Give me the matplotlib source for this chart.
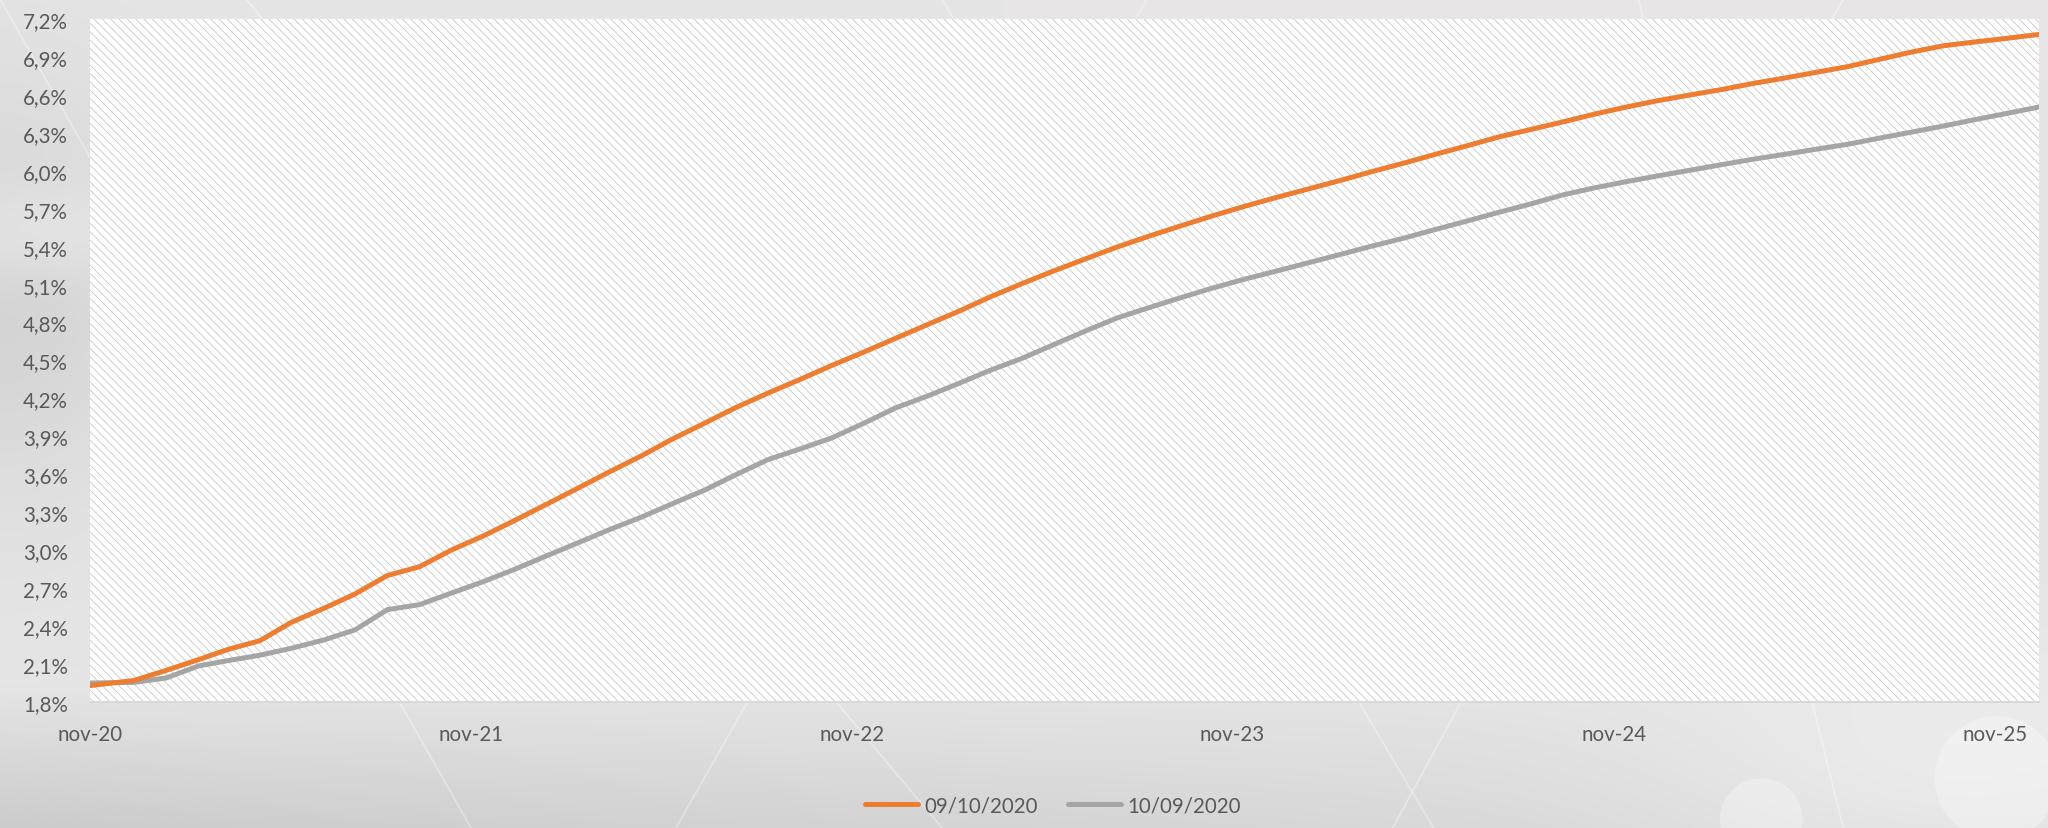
import numpy as np
import pandas as pd
import matplotlib
matplotlib.use("Agg")
import matplotlib.pyplot as plt
from matplotlib.patches import Rectangle, Ellipse
from matplotlib.lines import Line2D

# ---------------- data ----------------
series_names = ["09/10/2020", "10/09/2020"]
first_date = "2020-11-01"
monthly_start = "2020-12-13"
n_monthly = 61

orange_values = [1.93, 1.97, 2.05, 2.135, 2.215, 2.285, 2.43, 2.54, 2.654, 2.80,
                 2.87, 3.00, 3.113, 3.235, 3.365, 3.496, 3.616, 3.744, 3.878, 4.004,
                 4.128, 4.243, 4.352, 4.461, 4.568, 4.675, 4.785, 4.894, 5.00, 5.107,
                 5.206, 5.303, 5.396, 5.483, 5.566, 5.644, 5.72, 5.789, 5.857, 5.925,
                 5.992, 6.06, 6.129, 6.198, 6.267, 6.327, 6.387, 6.448, 6.505, 6.555,
                 6.60, 6.644, 6.689, 6.733, 6.778, 6.824, 6.881, 6.939, 6.989, 7.019,
                 7.048, 7.078]
gray_values = [1.95, 1.955, 1.99, 2.085, 2.127, 2.17, 2.225, 2.29, 2.37, 2.53,
               2.57, 2.66, 2.752, 2.849, 2.957, 3.063, 3.16, 3.26, 3.367, 3.475,
               3.597, 3.717, 3.802, 3.888, 4.005, 4.125, 4.22, 4.323, 4.42, 4.516,
               4.623, 4.733, 4.835, 4.918, 4.998, 5.073, 5.144, 5.207, 5.273, 5.340,
               5.403, 5.467, 5.535, 5.603, 5.671, 5.738, 5.81, 5.865, 5.915, 5.96,
               6.005, 6.05, 6.09, 6.13, 6.17, 6.21, 6.258, 6.306, 6.355, 6.405,
               6.455, 6.504]

tick_dates = ["2020-11-01", "2021-11-01", "2022-11-01", "2023-11-01", "2024-11-01", "2025-11-01"]
tick_labels = ["nov-20", "nov-21", "nov-22", "nov-23", "nov-24", "nov-25"]
y_ticks = [1.8, 2.1, 2.4, 2.7, 3.0, 3.3, 3.6, 3.9, 4.2, 4.5, 4.8, 5.1, 5.4, 5.7,
           6.0, 6.3, 6.6, 6.9, 7.2]

dates = [pd.Timestamp(first_date)] + list(
    pd.date_range(monthly_start, periods=n_monthly, freq=pd.DateOffset(months=1)))

# ---------------- style ----------------
FONT = ["Lato", "DejaVu Sans"]
plt.rcParams['font.family'] = FONT
plt.rcParams['hatch.linewidth'] = 0.6
plt.rcParams['hatch.color'] = '#c8c8c8'
TXT = '#595959'
ORANGE = '#ED7D31'
GRAY = '#A5A5A5'
FS = 14.8

W, H = 2048, 829
fig = plt.figure(figsize=(W / 100, H / 100), dpi=100)

# ---------------- background ----------------
bg = fig.add_axes([0, 0, 1, 1], zorder=-10)
bg.axis('off')
yy, xx = np.mgrid[0:1:200j, 0:1:500j]  # yy: 0 top -> 1 bottom
g = 0.90 - 0.07 * np.exp(-((yy - 0.35) / 0.25) ** 2) * np.exp(-(xx / 0.08) ** 2)
g -= 0.10 * np.clip((yy - 0.83) / 0.17, 0, 1) * (1 - 0.7 * xx)
g += 0.04 * np.exp(-((xx - 0.95) ** 2 + (yy - 0.95) ** 2) / 0.02)
g += 0.05 * np.exp(-((xx - 0.01) ** 2 + (yy - 0.28) ** 2) / 0.004)
rgb = np.dstack([g + 0.012 * xx * (yy < 0.1), g, g + 0.004 * xx * (yy < 0.1)])
bg.imshow(np.clip(rgb, 0, 1), extent=[0, 1, 0, 1], aspect='auto', interpolation='bilinear')
for x0, x1 in [(0.0, 0.23), (0.12, 0.46), (0.46, 0.7), (0.56, 0.33), (0.8, 0.9), (0.9, 0.68)]:
    bg.plot([x0, x1], [1.0, 0.0], color='white', alpha=0.35, lw=1.2)
for cx, cy, r in [(0.975, 0.06, 0.075), (0.86, 0.01, 0.05)]:
    bg.add_patch(Ellipse((cx, cy), 2 * r * H / W, 2 * r, transform=bg.transAxes,
                         facecolor='white', alpha=0.3, edgecolor='none'))
bg.set_xlim(0, 1)
bg.set_ylim(0, 1)

# ---------------- main axes ----------------
left, right = 90 / W, 2039 / W
bottom, top = 1 - 703 / H, 1 - 20 / H
ax = fig.add_axes([left, bottom, right - left, top - bottom])
ax.patch.set_alpha(0)
ax.add_patch(Rectangle((0, 0), 1, 1, transform=ax.transAxes, facecolor='white',
                       edgecolor='#c8c8c8', hatch='\\\\\\\\', lw=0, zorder=0))

ax.plot(dates, gray_values, color=GRAY, lw=3.6, solid_joinstyle='round',
        solid_capstyle='round', zorder=3, label=series_names[1])
ax.plot(dates, orange_values, color=ORANGE, lw=3.6, solid_joinstyle='round',
        solid_capstyle='round', zorder=4, label=series_names[0])

ax.set_xlim(dates[0], dates[-1])
ax.set_ylim(y_ticks[0], y_ticks[-1])
ax.set_yticks(y_ticks)
ax.set_yticklabels([f"{v:.1f}%".replace('.', ',') for v in y_ticks])
ax.set_xticks([pd.Timestamp(d) for d in tick_dates])
ax.set_xticklabels(tick_labels)
ax.tick_params(axis='y', length=0, pad=16, labelsize=FS, labelcolor=TXT)
ax.tick_params(axis='x', length=0, pad=16, labelsize=FS, labelcolor=TXT)
for s in ['top', 'right', 'left']:
    ax.spines[s].set_visible(False)
ax.spines['bottom'].set_color('#d9d9d9')
ax.spines['bottom'].set_linewidth(1.5)

handles = [Line2D([], [], color=ORANGE, lw=3.6, solid_capstyle='round'),
           Line2D([], [], color=GRAY, lw=3.6, solid_capstyle='round')]
fig.legend(handles, series_names, loc='center', bbox_to_anchor=(0.514, 0.027),
           ncol=2, frameon=False, fontsize=FS, handlelength=2.6,
           handletextpad=0.3, columnspacing=1.45, labelcolor=TXT)

fig.savefig("out.png", dpi=100)
